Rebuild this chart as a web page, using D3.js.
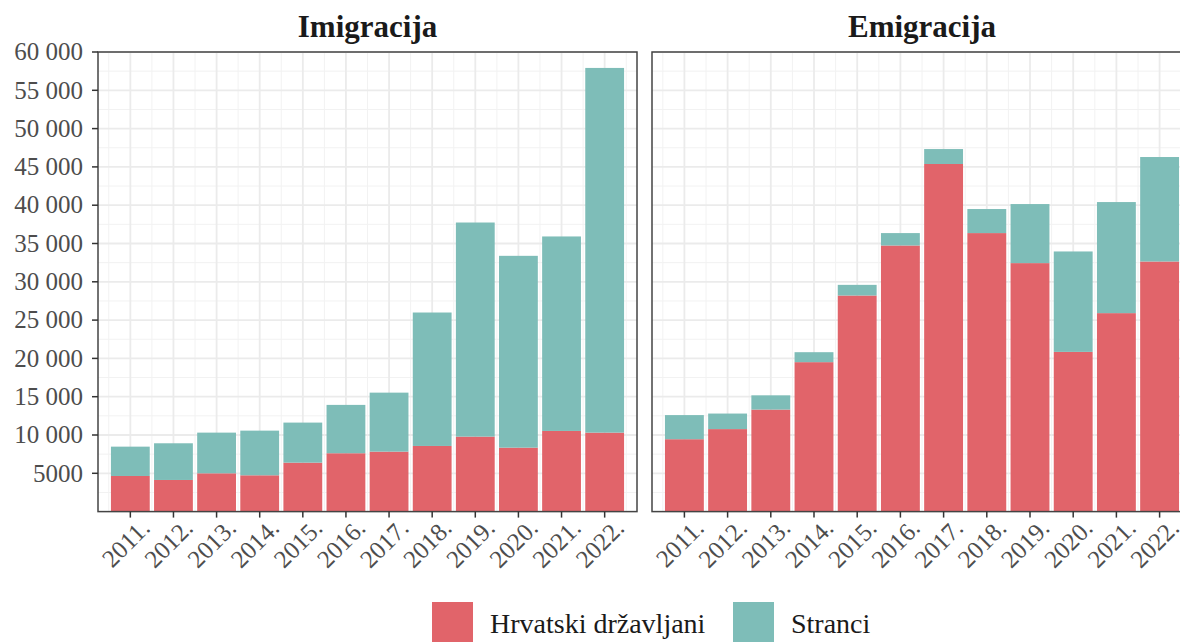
<!DOCTYPE html>
<html lang="hr">
<head>
  <meta charset="UTF-8">
  <script src="https://d3js.org/d3.v7.min.js"></script>
  <title>Imigracija i emigracija</title>
  <style>
    body {
      margin: 0;
      background: #fff;
      overflow: hidden;
    }
    svg text {
      font-family: "Liberation Serif", "DejaVu Serif", serif;
    }
  </style>
</head>
<body>
<script>
  // Data
  const years = ["2011.", "2012.", "2013.", "2014.", "2015.", "2016.", "2017.", "2018.", "2019.", "2020.", "2021.", "2022."];
  const seriesNames = ["Hrvatski državljani", "Stranci"];

  const imigHrvatski = [4650, 4130, 5000, 4740, 6390, 7620, 7830, 8570, 9790, 8350, 10530, 10310];
  const imigStranci  = [3830, 4790, 5310, 5830, 5230, 6310, 7700, 17420, 27950, 25040, 25390, 47610];

  const emigHrvatski = [9450, 10770, 13320, 19510, 28210, 34740, 45380, 36360, 32440, 20850, 25910, 32650];
  const emigStranci  = [3150, 2030, 1860, 1300, 1390, 1620, 1950, 3140, 7710, 13110, 14500, 13640];

  const yTicks = [5000, 10000, 15000, 20000, 25000, 30000, 35000, 40000, 45000, 50000, 55000, 60000];

  const width = 1180;
  const height = 642;

  const colors = d3.scaleOrdinal()
    .domain(seriesNames)
    .range(["#e1646a", "#7ebdb8"]);

  const svg = d3.select("body").append("svg")
    .attr("width", width)
    .attr("height", height);

  const panelTop = 52, panelBottom = 511.6;

  const y = d3.scaleLinear()
    .domain([0, 60000])
    .range([panelBottom, panelTop]);

  function fmt(v) {
    return v >= 10000 ? d3.format(",")(v).replace(/,/g, " ") : String(v);
  }

  const panels = [
    { title: "Imigracija", x0: 98, x1: 637, hrv: imigHrvatski, str: imigStranci, yAxis: true },
    { title: "Emigracija", x0: 652, x1: 1192, hrv: emigHrvatski, str: emigStranci, yAxis: false }
  ];

  panels.forEach(p => {
    const x = d3.scalePoint()
      .domain(years)
      .range([p.x0, p.x1])
      .padding(0.75);
    const step = x.step();
    const barW = step * 0.9;

    const g = svg.append("g");

    // minor grid
    const minorY = d3.range(2500, 60000, 5000);
    g.selectAll(".minor-y").data(minorY).enter().append("line")
      .attr("x1", p.x0).attr("x2", p.x1)
      .attr("y1", d => y(d)).attr("y2", d => y(d))
      .attr("stroke", "#f2f2f2").attr("stroke-width", 1);

    const minorX = years.slice(0, -1).map(d => x(d) + step / 2)
      .concat([x(years[0]) - step / 2, x(years[years.length - 1]) + step / 2]);
    g.selectAll(".minor-x").data(minorX).enter().append("line")
      .attr("x1", d => d).attr("x2", d => d)
      .attr("y1", panelTop).attr("y2", panelBottom)
      .attr("stroke", "#f2f2f2").attr("stroke-width", 1);

    // major grid
    g.selectAll(".major-y").data(yTicks).enter().append("line")
      .attr("x1", p.x0).attr("x2", p.x1)
      .attr("y1", d => y(d)).attr("y2", d => y(d))
      .attr("stroke", "#ebebeb").attr("stroke-width", 1.8);

    g.selectAll(".major-x").data(years).enter().append("line")
      .attr("x1", d => x(d)).attr("x2", d => x(d))
      .attr("y1", panelTop).attr("y2", panelBottom)
      .attr("stroke", "#ebebeb").attr("stroke-width", 1.8);

    // stacked bars
    const rows = years.map((yr, i) => ({ year: yr, "Hrvatski državljani": p.hrv[i], "Stranci": p.str[i] }));
    const stacked = d3.stack().keys(seriesNames)(rows);

    g.selectAll(".layer").data(stacked).enter().append("g")
      .attr("fill", d => colors(d.key))
      .selectAll("rect").data(d => d).enter().append("rect")
      .attr("x", d => x(d.data.year) - barW / 2)
      .attr("width", barW)
      .attr("y", d => y(d[1]))
      .attr("height", d => y(d[0]) - y(d[1]));

    // panel border
    g.append("rect")
      .attr("x", p.x0).attr("y", panelTop)
      .attr("width", p.x1 - p.x0).attr("height", panelBottom - panelTop)
      .attr("fill", "none")
      .attr("stroke", "#444").attr("stroke-width", 1.5);

    // x axis ticks + labels
    g.selectAll(".xtick").data(years).enter().append("line")
      .attr("x1", d => x(d)).attr("x2", d => x(d))
      .attr("y1", panelBottom).attr("y2", panelBottom + 6)
      .attr("stroke", "#333").attr("stroke-width", 1.5);

    g.selectAll(".xlabel").data(years).enter().append("text")
      .attr("transform", d => `translate(${x(d) + 21},${panelBottom + 18}) rotate(-45)`)
      .attr("text-anchor", "end")
      .attr("font-size", 25)
      .attr("fill", "#4d4d4d")
      .text(d => d);

    // y axis
    if (p.yAxis) {
      g.selectAll(".ytick").data(yTicks).enter().append("line")
        .attr("x1", p.x0 - 6).attr("x2", p.x0)
        .attr("y1", d => y(d)).attr("y2", d => y(d))
        .attr("stroke", "#333").attr("stroke-width", 1.5);

      g.selectAll(".ylabel").data(yTicks).enter().append("text")
        .attr("x", p.x0 - 15)
        .attr("y", d => y(d))
        .attr("dy", "0.33em")
        .attr("text-anchor", "end")
        .attr("font-size", 25)
        .attr("fill", "#4d4d4d")
        .text(d => fmt(d));
    }

    // title
    svg.append("text")
      .attr("x", (p.x0 + p.x1) / 2)
      .attr("y", 37)
      .attr("text-anchor", "middle")
      .attr("font-size", 31)
      .attr("font-weight", "bold")
      .attr("fill", "#1a1a1a")
      .text(p.title);
  });

  // legend
  const legendX = [432, 733];
  const legend = svg.append("g");
  seriesNames.forEach((name, i) => {
    legend.append("rect")
      .attr("x", legendX[i]).attr("y", 602)
      .attr("width", 41).attr("height", 41)
      .attr("fill", colors(name));
    legend.append("text")
      .attr("x", legendX[i] + 58)
      .attr("y", 633)
      .attr("font-size", 28)
      .attr("fill", "#1a1a1a")
      .text(name);
  });
</script>
</body>
</html>
